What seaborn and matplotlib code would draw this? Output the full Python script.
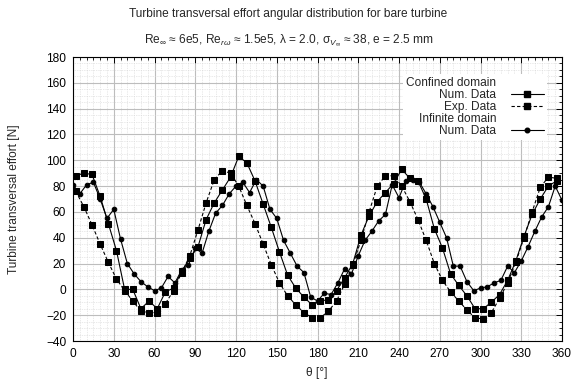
import matplotlib
matplotlib.use('Agg')
import matplotlib.pyplot as plt
from matplotlib.ticker import MultipleLocator
from matplotlib.lines import Line2D
import seaborn as sns

# Infinite domain, numerical data (every 5 deg)
theta_inf = list(range(0, 361, 5))
num_inf = [81, 74, 81, 83, 70, 55, 62, 39, 20, 12, 6, 2, -1, 1, 10, 5, 15, 19,
           32, 28, 45, 59, 65, 74, 80, 83, 75, 85, 80, 62, 55, 38, 28, 18, 13, -6,
           -9, -3, -4, 5, 16, 12, 26, 38, 45, 53, 58, 81, 71, 84, 85, 83, 74, 64,
           52, 40, 18, 18, 6, -1, 1, 2, 5, 7, 18, 13, 22, 33, 45, 56, 64, 80, 69]

# Confined domain (every 6 deg)
theta_conf = list(range(2, 357, 6))
num_conf = [88, 90, 89, 72, 51, 30, 0, 0, -15, -9, -15, -2, 1, 14, 24, 33, 54, 67,
            77, 87, 103, 98, 84, 66, 48, 29, 11, 1, -6, -12, -9, -8, -1, 9, 20, 42,
            57, 68, 75, 82, 93, 86, 84, 70, 47, 32, 12, 3, -5, -15, -15, -10, -4, 7,
            22, 41, 58, 70, 80, 84]
exp_conf = [76, 64, 50, 35, 21, 8, -1, -9, -17, -18, -18, -11, -1, 13, 26, 46, 67, 85,
            92, 90, 80, 65, 51, 35, 19, 5, -5, -12, -18, -22, -22, -17, -9, 4, 19, 38,
            60, 80, 88, 88, 80, 68, 54, 38, 20, 7, -2, -9, -16, -22, -23, -18, -7, 5,
            21, 40, 60, 79, 87, 86]

sns.set_style('white')
plt.rcParams['font.family'] = ['Liberation Sans', 'DejaVu Sans']
plt.rcParams['mathtext.fontset'] = 'custom'
plt.rcParams['mathtext.rm'] = 'Liberation Sans'
plt.rcParams['mathtext.it'] = 'Liberation Sans:italic'
plt.rcParams['mathtext.sf'] = 'Liberation Sans'
fs = 8.6

fig, ax = plt.subplots(figsize=(5.77, 3.82), dpi=100)
fig.subplots_adjust(left=73/577, right=562/577, top=1-57/382, bottom=1-341/382)

sns.lineplot(x=theta_conf, y=num_conf, ax=ax, color='black', lw=0.8, marker='s',
             markersize=4.3, mec='black', sort=False, legend=False)
sns.lineplot(x=theta_conf, y=exp_conf, ax=ax, color='black', lw=0.8, marker='s',
             markersize=4.3, mec='black', linestyle=(0, (3, 2)), sort=False, legend=False)
sns.lineplot(x=theta_inf, y=num_inf, ax=ax, color='black', lw=0.8, marker='o',
             markersize=3.3, mec='black', sort=False, legend=False)

ax.set_xlim(0, 360)
ax.set_ylim(-40, 180)
ax.xaxis.set_major_locator(MultipleLocator(30))
ax.xaxis.set_minor_locator(MultipleLocator(5))
ax.yaxis.set_major_locator(MultipleLocator(20))
ax.yaxis.set_minor_locator(MultipleLocator(5))
ax.grid(which='major', color='#bdbdbd', lw=0.8, ls='-')
ax.grid(which='minor', color='#d4d4d4', lw=0.5, ls=(0, (1, 1.5)))
ax.set_axisbelow(True)
ax.tick_params(which='both', direction='in', top=True, right=True,
               labelsize=fs, colors='black', pad=5)
ax.tick_params(which='major', length=4, width=0.7)
ax.tick_params(which='minor', length=2, width=0.6)
for sp in ax.spines.values():
    sp.set_color('black')
    sp.set_linewidth(0.8)
ax.set_xlabel('')
ax.set_ylabel('')

fig.text(0.5, 1-14/382, 'Turbine transversal effort angular distribution for bare turbine',
         ha='center', va='center', fontsize=fs)
fig.text(0.5, 1-40/382,
         r'Re$_{\infty}$ ≈ 6e5, Re$_{r\omega}$ ≈ 1.5e5, λ = 2.0, σ$_{V_{\infty}}$ ≈ 38, e = 2.5 mm',
         ha='center', va='center', fontsize=fs)
fig.text(14/577, 1-199/382, 'Turbine transversal effort [N]', rotation=90,
         ha='center', va='center', fontsize=fs)
fig.text(317/577, 1-373/382, 'θ [°]', ha='center', va='center', fontsize=fs)

blank = Line2D([], [], linestyle='none')
h_num = Line2D([], [], color='black', lw=0.8, marker='s', markersize=4.3)
h_exp = Line2D([], [], color='black', lw=0.8, marker='s', markersize=4.3, linestyle=(0, (3, 2)))
h_inf = Line2D([], [], color='black', lw=0.8, marker='o', markersize=3.3)
leg = ax.legend([blank, h_num, h_exp, blank, h_inf],
                ['Confined domain', 'Num. Data', 'Exp. Data', 'Infinite domain', 'Num. Data'],
                loc='upper right', bbox_to_anchor=(553/577, 1-68/382),
                bbox_transform=fig.transFigure, markerfirst=False, numpoints=1,
                frameon=True, framealpha=1, edgecolor='none', fancybox=False,
                fontsize=fs, handlelength=2.8, labelspacing=0.0, handletextpad=1.2,
                borderpad=0.25)

fig.savefig('out.png', dpi=100)
